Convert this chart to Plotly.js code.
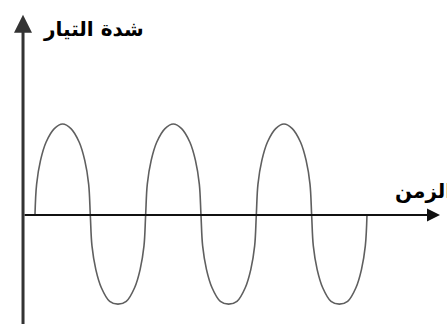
<!DOCTYPE html>
<html>
<head>
<meta charset="utf-8">
<script src="https://cdn.plot.ly/plotly-3.0.1.min.js"></script>
<style>
  html, body { margin: 0; padding: 0; background: #ffffff; }
  #chart { width: 447px; height: 324px; }
</style>
</head>
<body>
<div id="chart"></div>
<script>
// Alternating current over three periods (time in periods, current relative to peak)
const timeValues = [
  0, 0.015, 0.05, 0.1, 0.175, 0.25, 0.325, 0.4, 0.45, 0.485,
  0.5, 0.515, 0.55, 0.6, 0.675, 0.75, 0.825, 0.9, 0.95, 0.985,
  1, 1.015, 1.05, 1.1, 1.175, 1.25, 1.325, 1.4, 1.45, 1.485,
  1.5, 1.515, 1.55, 1.6, 1.675, 1.75, 1.825, 1.9, 1.95, 1.985,
  2, 2.015, 2.05, 2.1, 2.175, 2.25, 2.325, 2.4, 2.45, 2.485,
  2.5, 2.515, 2.55, 2.6, 2.675, 2.75, 2.825, 2.9, 2.95, 2.985,
  3
];
const currentValues = [
  0, 0.34, 0.6, 0.8, 0.95, 1, 0.95, 0.8, 0.6, 0.34,
  0, -0.34, -0.6, -0.8, -0.95, -0.98, -0.95, -0.8, -0.6, -0.34,
  0, 0.34, 0.6, 0.8, 0.95, 1, 0.95, 0.8, 0.6, 0.34,
  0, -0.34, -0.6, -0.8, -0.95, -0.98, -0.95, -0.8, -0.6, -0.34,
  0, 0.34, 0.6, 0.8, 0.95, 1, 0.95, 0.8, 0.6, 0.34,
  0, -0.34, -0.6, -0.8, -0.95, -0.98, -0.95, -0.8, -0.6, -0.34,
  0
];

const axisLabels = { current: 'شدة التيار', time: 'الزمن' };

// Extent of the drawn axes
const axisOrigin = { x: -0.108, y: 0 };
const timeAxisEnd = 3.66;
const currentAxisTop = 2.2;
const currentAxisBottom = -1.22;

const trace = {
  x: timeValues,
  y: currentValues,
  type: 'scatter',
  mode: 'lines',
  line: { color: '#5f5f5f', width: 1.6, shape: 'spline', smoothing: 1 },
  hoverinfo: 'skip'
};

const layout = {
  width: 447,
  height: 324,
  margin: { l: 0, r: 0, t: 0, b: 0 },
  paper_bgcolor: '#ffffff',
  plot_bgcolor: '#ffffff',
  showlegend: false,
  xaxis: { range: [-0.316, 3.723], visible: false, fixedrange: true },
  yaxis: { range: [-1.198, 2.363], visible: false, fixedrange: true },
  annotations: [
    {
      // time axis
      x: timeAxisEnd, y: axisOrigin.y, ax: axisOrigin.x, ay: axisOrigin.y,
      xref: 'x', yref: 'y', axref: 'x', ayref: 'y',
      text: '', showarrow: true, arrowhead: 2, arrowsize: 1.3, arrowwidth: 2, arrowcolor: '#111111',
      standoff: 0
    },
    {
      // current axis
      x: axisOrigin.x, y: currentAxisTop, ax: axisOrigin.x, ay: currentAxisBottom,
      xref: 'x', yref: 'y', axref: 'x', ayref: 'y',
      text: '', showarrow: true, arrowhead: 2, arrowsize: 1.2, arrowwidth: 3, arrowcolor: '#333333',
      standoff: 0
    },
    {
      text: '<b>' + axisLabels.current + '</b>',
      xref: 'paper', yref: 'paper', x: 0.092, y: 0.912,
      xanchor: 'left', yanchor: 'middle', showarrow: false,
      font: { family: 'DejaVu Sans', size: 20, color: '#000000' }
    },
    {
      text: '<b>' + axisLabels.time + '</b>',
      xref: 'paper', yref: 'paper', x: 1.016, y: 0.41,
      xanchor: 'right', yanchor: 'middle', showarrow: false,
      font: { family: 'DejaVu Sans', size: 20, color: '#000000' }
    }
  ]
};

Plotly.newPlot('chart', [trace], layout, { displayModeBar: false, staticPlot: true });
</script>
</body>
</html>
